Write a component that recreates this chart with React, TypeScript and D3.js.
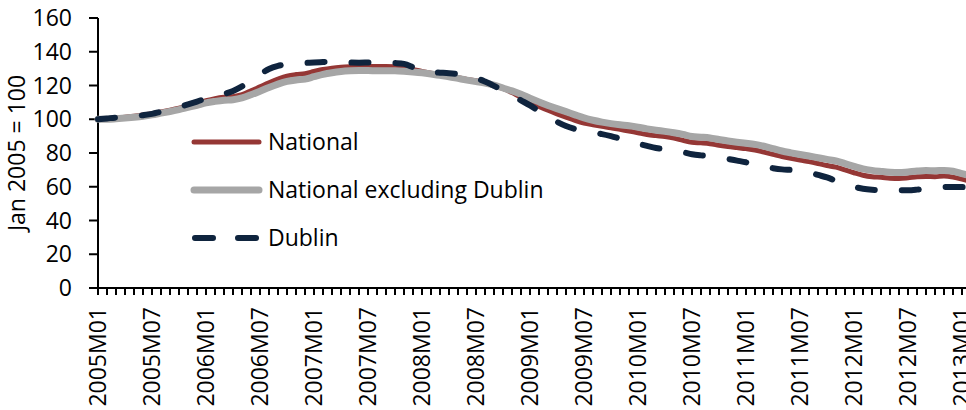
import React, { useRef, useEffect } from 'react';
import * as d3 from 'd3';

// monthly categories 2005M01 .. 2013M02 (last one sits just past the right edge)
const months: string[] = [];
for (let y = 2005; y <= 2013; y++) {
  for (let m = 1; m <= 12; m++) {
    if (y === 2013 && m > 2) break;
    months.push(`${y}M${String(m).padStart(2, '0')}`);
  }
}

const tickLabels = [
  '2005M01', '2005M07', '2006M01', '2006M07', '2007M01', '2007M07', '2008M01', '2008M07',
  '2009M01', '2009M07', '2010M01', '2010M07', '2011M01', '2011M07', '2012M01', '2012M07', '2013M01',
];

const yTicks = [0, 20, 40, 60, 80, 100, 120, 140, 160];

const national = [
  100, 100.3, 100.8, 101.2, 101.8, 102.5, 103.3, 104.3, 105.4, 106.6, 108, 109.5,
  111, 112.2, 113, 113.4, 114.6, 116.8, 119.2, 121.6, 123.8, 125.6, 126.5, 127,
  128.3, 129.5, 130.3, 130.8, 131.1, 131.3, 131.3, 131.2, 131.3, 131.1, 130.5, 129.5,
  128.3, 127.3, 126.4, 125.5, 124.6, 123.6, 122.8, 121.5, 120, 118.2, 115.8, 113,
  110, 107.6, 105.3, 103.2, 101.2, 99.3, 97.7, 96.7, 95.8, 95, 94, 93,
  92, 91, 90.3, 89.7, 88.8, 87.5, 86.4, 86, 85.5, 84.6, 83.8, 83.2,
  82.6, 81.8, 80.5, 79.2, 77.9, 76.8, 75.8, 74.9, 73.8, 72.6, 71.6, 70,
  68.3, 66.8, 65.9, 65.6, 65.1, 64.9, 65.3, 65.9, 66.1, 66, 66.3, 65.7,
  64.5, 63,
];

const nationalExDublin = [
  100, 100, 100.3, 100.7, 101.2, 101.8, 102.6, 103.6, 104.6, 105.7, 107, 108.3,
  109.7, 110.6, 111.3, 111.6, 112.6, 114.5, 116.6, 118.8, 120.8, 122.4, 123.3, 123.8,
  125.2, 126.6, 127.6, 128.3, 128.7, 128.9, 128.9, 128.7, 128.8, 128.7, 128.4, 128,
  127.5, 126.8, 126, 125.2, 124.2, 123.2, 122.3, 121.4, 120.2, 118.5, 116.8, 114.8,
  112.5, 110.3, 108.2, 106.3, 104.5, 102.6, 100.8, 99.4, 98.3, 97.4, 96.7, 96.1,
  95.3, 94.3, 93.5, 92.8, 92, 91, 89.8, 89.4, 88.9, 88, 87.1, 86.4,
  85.8, 85.1, 84, 82.6, 81.2, 80.1, 79.1, 78.2, 77.2, 76.2, 75.3, 73.7,
  72.1, 70.6, 69.7, 69.1, 68.6, 68.4, 68.8, 69.3, 69.6, 69.5, 69.7, 69.2,
  67.8, 66.3,
];

const dublin = [
  100, 100.5, 101, 101.3, 101.8, 102.4, 103.2, 104.5, 105.8, 107.2, 108.8, 110.5,
  112.3, 113.8, 115, 116.8, 119.5, 122.8, 126.6, 129.8, 131.6, 132.6, 133.1, 133.4,
  133.6, 133.9, 134.2, 134, 133.6, 133.5, 133.6, 133.7, 133.5, 133.3, 132.8, 130.8,
  128.5, 127.9, 127.6, 127.3, 126.8, 126, 124.5, 122.3, 119.8, 117, 114.2, 111.2,
  108.2, 104.8, 101.5, 98.5, 96, 94.2, 92.8, 92, 91.2, 90, 88.5, 87,
  85.5, 84.2, 83, 82.2, 81.4, 80.5, 79.3, 78.6, 78.1, 77.4, 76.5, 75.5,
  74.5, 73.2, 72, 71, 70.3, 70, 69.6, 68.5, 67, 65.5, 63.5, 61.7,
  60, 58.8, 58.2, 58, 58, 58, 57.9, 58.3, 59, 59.6, 59.8, 59.9,
  59.8, 59.6,
];

const seriesNames = ['National', 'National excluding Dublin', 'Dublin'];

export default function App() {
  const svgRef = useRef<SVGSVGElement>(null);

  useEffect(() => {
    document.body.style.margin = '0';
    const svg = d3.select(svgRef.current);
    svg.selectAll('*').remove();

    const font = '"Open Sans", "Noto Sans", sans-serif';
    const fontSize = '23px';
    const x0 = 98, y0 = 288, yTop = 18;

    const x = d3.scaleLinear().domain([0, 96]).range([x0, 962]);
    const y = d3.scaleLinear().domain([0, 160]).range([y0, yTop]);

    const styles = [
      { data: national, color: '#953735', width: 5, dash: null },
      { data: nationalExDublin, color: '#A6A6A6', width: 7, dash: null },
      { data: dublin, color: '#0F243E', width: 6, dash: '17 27' },
    ];

    // y axis
    const yAxis = svg.append('g');
    yAxis.append('line')
      .attr('x1', x0).attr('x2', x0)
      .attr('y1', yTop).attr('y2', y0 + 7)
      .attr('stroke', '#000').attr('stroke-width', 2);
    yAxis.selectAll('.yt')
      .data(yTicks)
      .enter().append('line')
      .attr('x1', x0 - 9).attr('x2', x0)
      .attr('y1', d => y(d)).attr('y2', d => y(d))
      .attr('stroke', '#000').attr('stroke-width', 2);
    yAxis.selectAll('.yl')
      .data(yTicks)
      .enter().append('text')
      .attr('x', 72).attr('y', d => y(d))
      .attr('dy', '0.35em')
      .attr('text-anchor', 'end')
      .style('font-family', font).style('font-size', fontSize)
      .text(d => d);

    svg.append('text')
      .attr('transform', 'translate(25,153) rotate(-90)')
      .attr('text-anchor', 'middle')
      .style('font-family', font).style('font-size', fontSize)
      .text('Jan 2005 = 100');

    // x axis
    const xAxis = svg.append('g');
    xAxis.append('line')
      .attr('x1', x0).attr('x2', 966)
      .attr('y1', y0).attr('y2', y0)
      .attr('stroke', '#000').attr('stroke-width', 2);
    xAxis.selectAll('.xt')
      .data(months)
      .enter().append('line')
      .attr('x1', (d, i) => x(i)).attr('x2', (d, i) => x(i))
      .attr('y1', y0).attr('y2', y0 + 7)
      .attr('stroke', '#000').attr('stroke-width', 2);
    xAxis.selectAll('.xl')
      .data(tickLabels)
      .enter().append('text')
      .attr('transform', d => `translate(${x(months.indexOf(d))},307) rotate(-90)`)
      .attr('dy', '0.35em')
      .attr('text-anchor', 'end')
      .style('font-family', font).style('font-size', fontSize)
      .text(d => d);

    // lines
    const line = d3.line<number>()
      .x((d, i) => x(i))
      .y(d => y(d))
      .curve(d3.curveMonotoneX);

    styles.forEach(s => {
      svg.append('path')
        .datum(s.data)
        .attr('d', line)
        .attr('fill', 'none')
        .attr('stroke', s.color)
        .attr('stroke-width', s.width)
        .attr('stroke-linecap', 'round')
        .attr('stroke-linejoin', 'round')
        .attr('stroke-dasharray', s.dash);
    });

    // legend
    const legend = svg.append('g');
    styles.forEach((s, i) => {
      const ly = 142 + i * 48;
      legend.append('line')
        .attr('x1', s.dash ? 195 : 194).attr('x2', s.dash ? 256 : 259)
        .attr('y1', ly).attr('y2', ly)
        .attr('stroke', s.color)
        .attr('stroke-width', s.width)
        .attr('stroke-linecap', 'round')
        .attr('stroke-dasharray', s.dash ? '18 25' : null);
      legend.append('text')
        .attr('x', 268).attr('y', ly)
        .attr('dy', '0.35em')
        .style('font-family', font).style('font-size', fontSize)
        .text(seriesNames[i]);
    });
  }, []);

  return (
    <svg ref={svgRef} width={966} height={410}
      style={{ position: 'absolute', left: 0, top: 0, background: '#fff' }} />
  );
}
